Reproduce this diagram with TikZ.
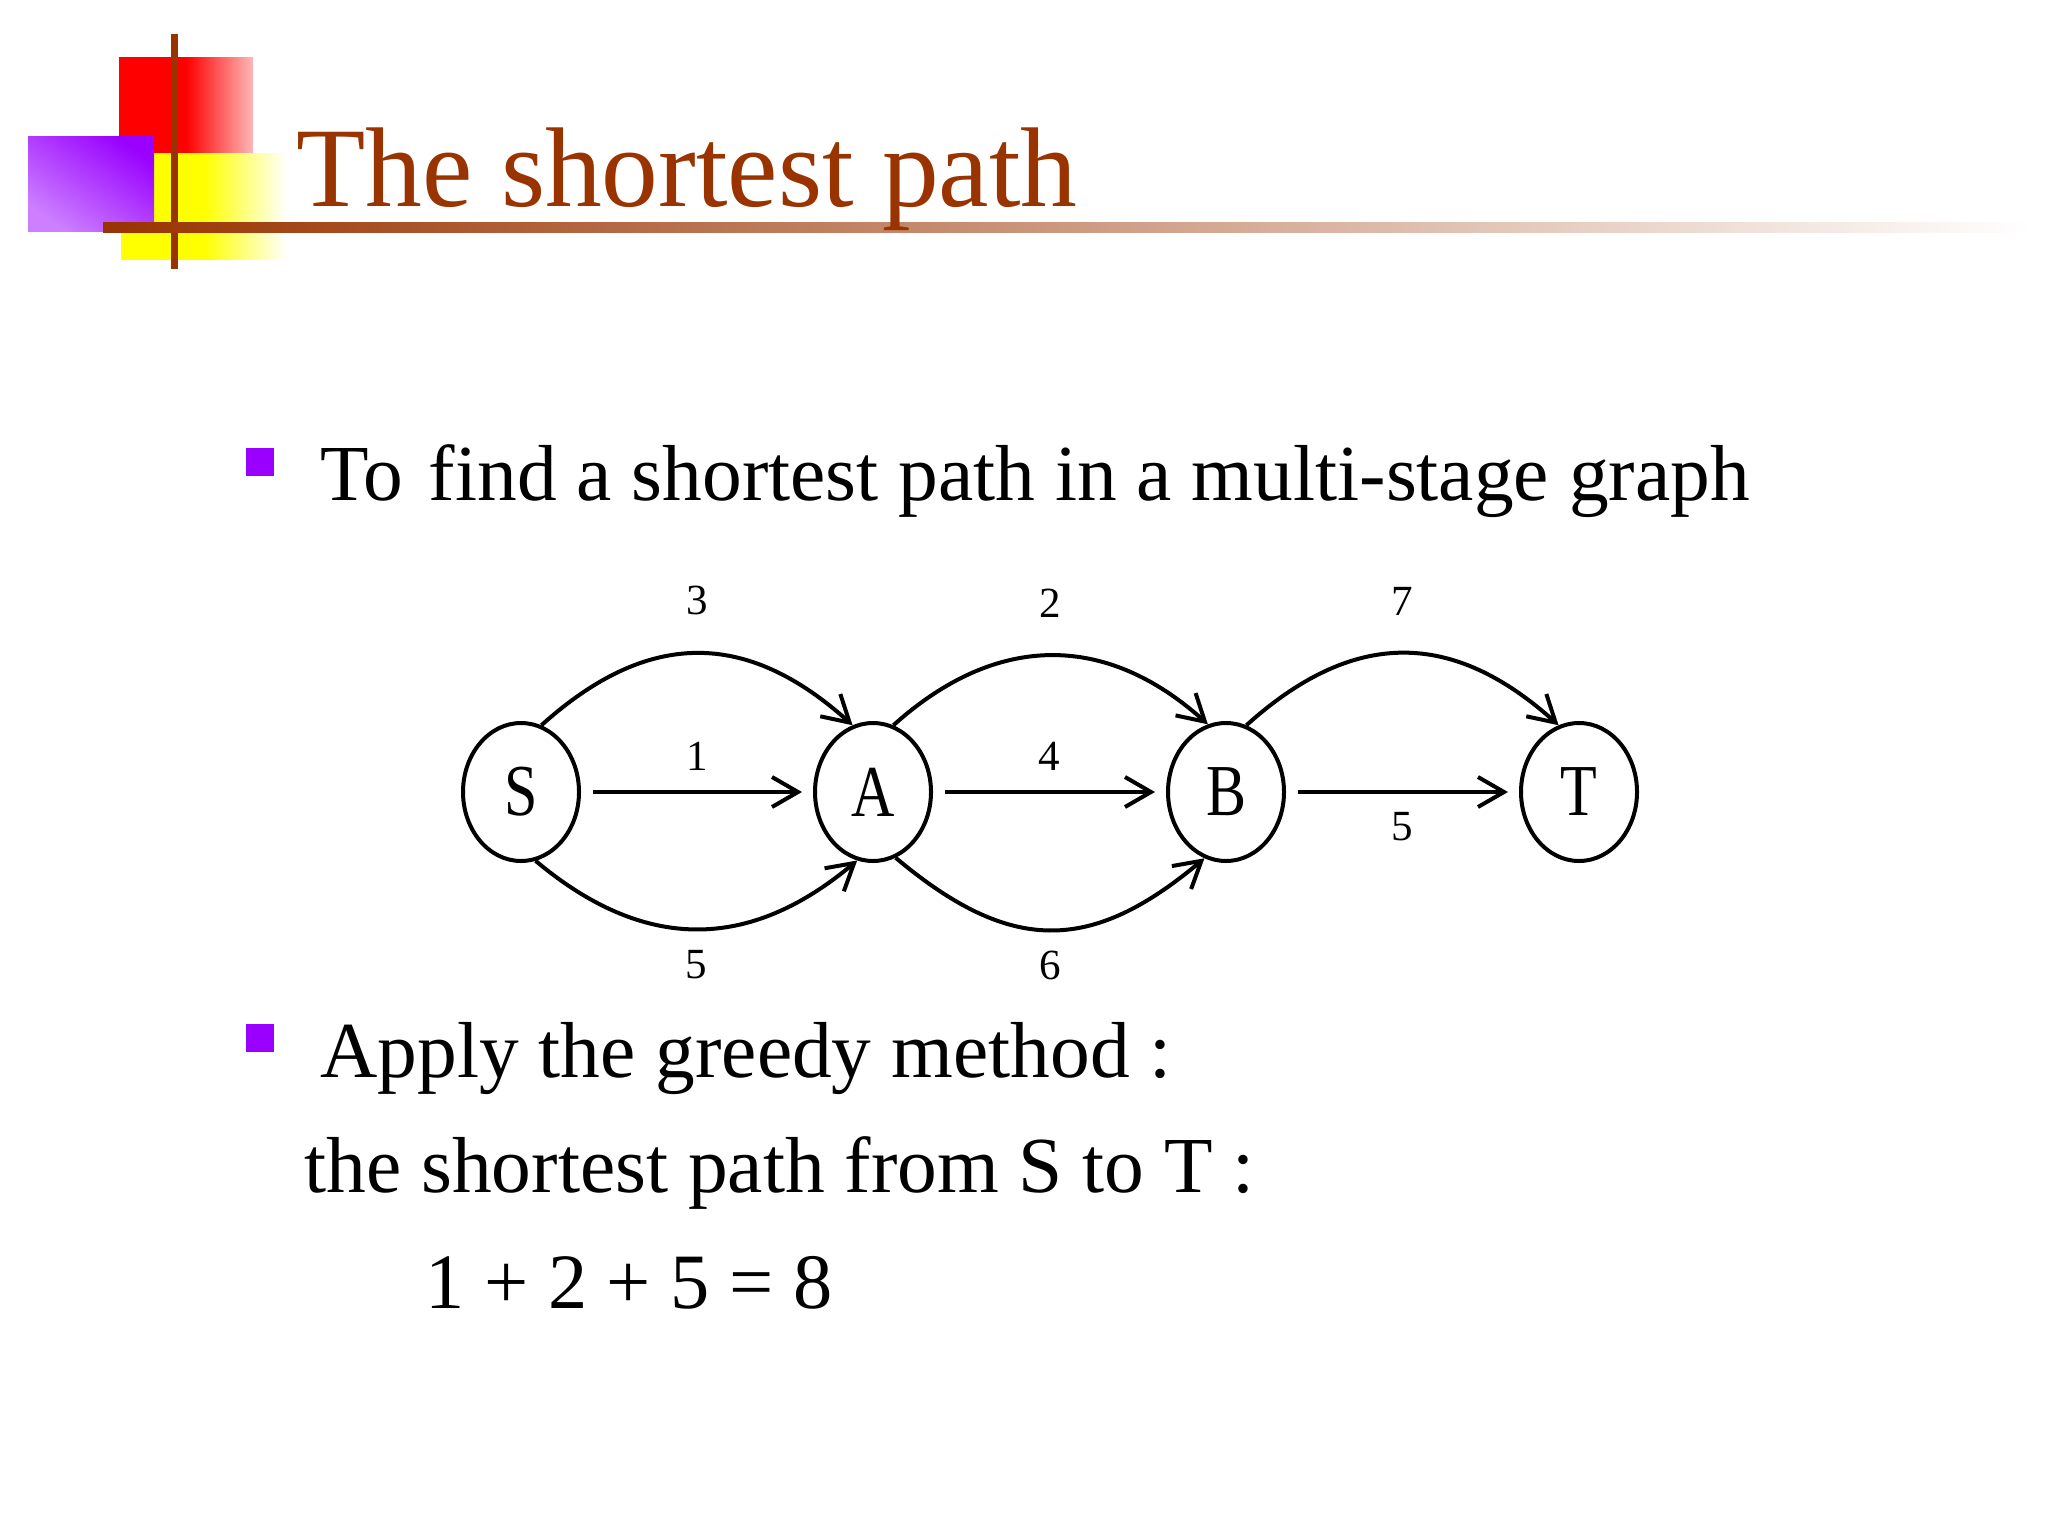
\documentclass[tikz,border=0pt]{standalone}
\usepackage{fontspec}
\setmainfont{Liberation Serif}
\usetikzlibrary{arrows.meta,positioning,shapes.geometric}
\definecolor{titlebrown}{HTML}{993300}
\definecolor{bulletpurple}{HTML}{9900FF}
\newcommand{\tallletter}[1]{\scalebox{1}[1.22]{#1}}
\tikzset{
	stage/.style = {shape=ellipse, draw, line width=2pt, inner sep=0pt, minimum width=116*0.5pt, minimum height=138*0.5pt, font=\fontsize{30}{30}\selectfont},
	edgeline/.style = {-{Straight Barb[length=13pt, width=15pt, line width=2pt]}, line width=2pt, black},
	straightline/.style = {edgeline, shorten >=5.5pt, shorten <=6pt},
	weight/.style = {inner sep=0pt, font=\fontsize{21.5}{21.5}\selectfont},
	bodytext/.style = {anchor=base west, inner sep=0pt, font=\fontsize{39.7}{39.7}\selectfont},
	bulletbox/.style = {fill=bulletpurple, inner sep=0pt, minimum width=14pt, minimum height=14pt}
}
\begin{document}
\begin{tikzpicture}[x=0.5pt, y=-0.5pt]
	\useasboundingbox (0,0) rectangle (2048,1536);
	% logo blocks
	\shade[left color=red, right color=red!28, middle color=red] (119,58) rectangle (253,153);
	\shade[left color=yellow, right color=white, middle color=yellow] (121,153) rectangle (287,259);
	\shade[left color=bulletpurple!50, right color=bulletpurple, shading angle=145] (28,136) rectangle (154,231);
	\fill[titlebrown] (171,34) rectangle (178,269);
	\shade[left color=titlebrown, right color=white] (103,222) rectangle (2030,232);
	\node[anchor=base west, inner sep=0pt, text=titlebrown, font=\fontsize{56.7}{56.7}\selectfont] (title) at (296,206) {The shortest path};
	% text
	\node[bulletbox] (bullet1) at (260,462) {};
	\node[bodytext] (line1) at (320,500) {To\kern3pt{} find a shortest path in a multi-stage graph};
	\node[bulletbox] (bullet2) at (260,1038) {};
	\node[bodytext] (line2) at (320,1077) {Apply the greedy method :};
	\node[bodytext] (line3) at (304,1192) {the shortest path from S to T :};
	\node[bodytext, font=\fontsize{39.2}{39.2}\selectfont] (line4) at (425,1308) {1 + 2 + 5 = 8};
	% graph
	\node[stage] (S) at (521,792) {\tallletter{S}};
	\node[stage] (A) at (873,792) {\tallletter{A}};
	\node[stage] (B) at (1226,792) {\tallletter{B}};
	\node[stage] (T) at (1579,792) {\tallletter{T}};
	\draw[straightline] (S) -- node[weight, above=10pt] (s1) {1} (A);
	\draw[straightline] (A) -- node[weight, above=10pt] (a4) {4} (B);
	\draw[straightline] (B) -- node[weight, below=9pt] (b5) {5} (T);
	\draw[edgeline] (S.73) to[out=42, in=138, looseness=1.18] node[weight, above=18pt] (s3) {3} (A.107);
	\draw[edgeline] (A.73) to[out=42, in=138, looseness=1.12] node[weight, above=18pt] (a2) {2} (B.105);
	\draw[edgeline] (B.73) to[out=42, in=138, looseness=1.18] node[weight, above=18pt] (b7) {7} (T.107);
	\draw[edgeline] (S.-78) to[out=-40, in=-140, looseness=1.13] node[weight, below=9.5pt] (s5) {5} (A.-103);
	\draw[edgeline] (A.-71) to[out=-40, in=-140, looseness=1.24] node[weight, below=9.5pt] (a6) {6} (B.-108);
\end{tikzpicture}
\end{document}
